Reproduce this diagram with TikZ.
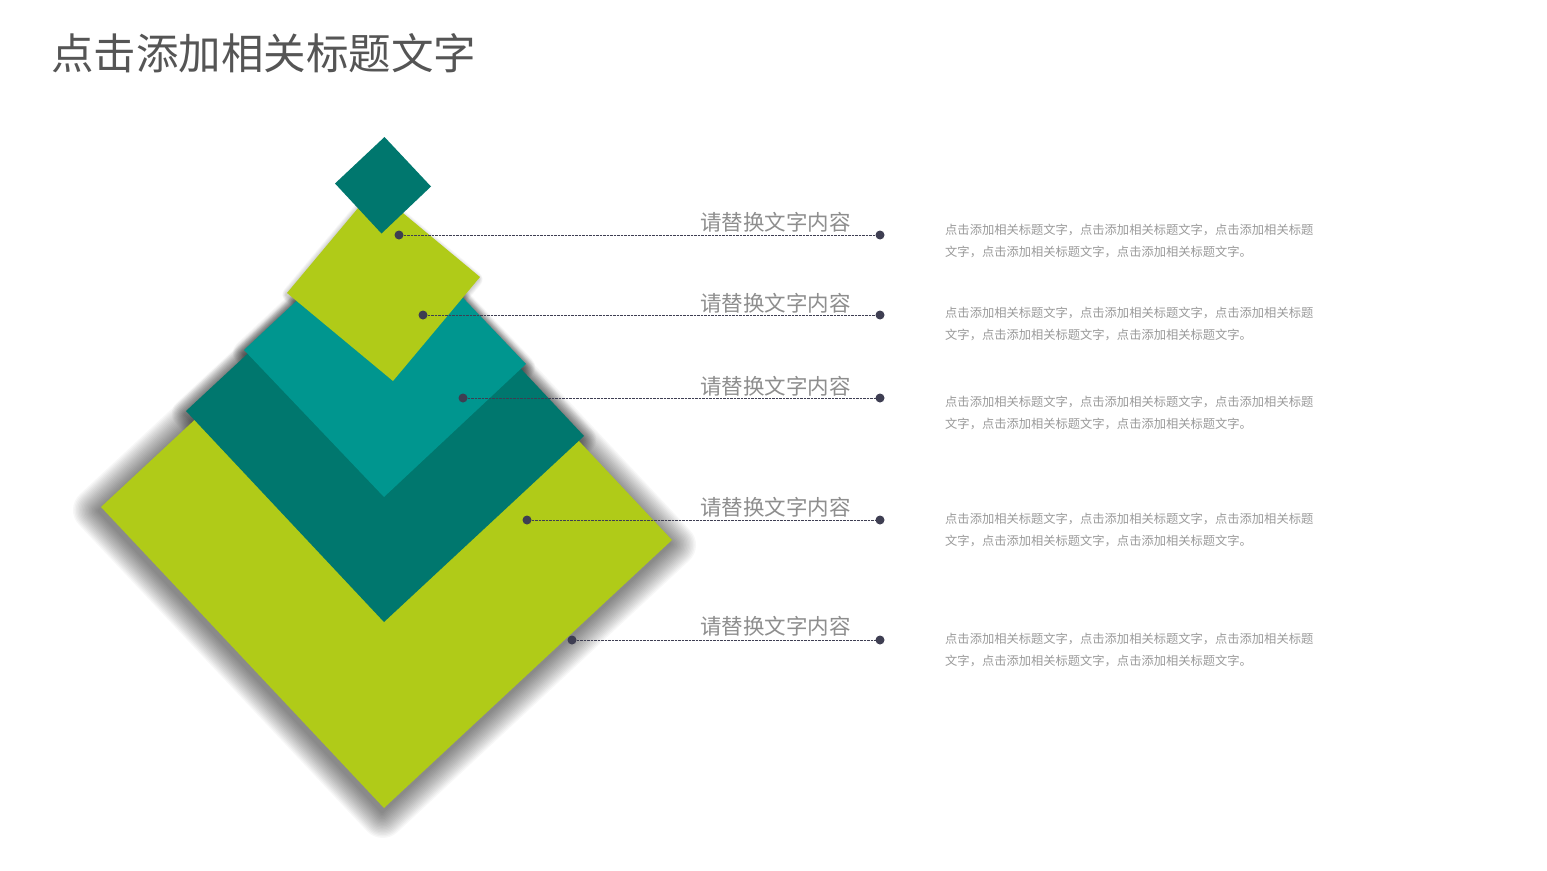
\documentclass[tikz,border=0pt]{standalone}
\usepackage{fontspec}
\newfontfamily\cjk{Noto Sans CJK SC}
\definecolor{lime}{HTML}{B0CB18}
\definecolor{dteal}{HTML}{00776E}
\definecolor{mteal}{HTML}{00968F}
\definecolor{dotc}{HTML}{3E3E52}
\definecolor{labc}{HTML}{8E8E8E}
\definecolor{bodyc}{HTML}{9A9A9A}
\definecolor{titlec}{HTML}{555555}
\tikzset{
  dotnode/.style={circle, fill=dotc, inner sep=0pt, minimum size=9pt},
  conn/.style={dotc, line width=0.9pt, dash pattern=on 0.7pt off 0.7pt},
  lab/.style={inner sep=0pt, anchor=base east, text=labc, font=\cjk\fontsize{21.5}{26}\selectfont},
  body/.style={inner sep=0pt, anchor=base west, text=bodyc, font=\cjk\fontsize{12.27}{22}\selectfont},
  shade layer/.style={fill=black, opacity=#1},
}
\begin{document}
\begin{tikzpicture}[x=1pt,y=-1pt]
\useasboundingbox[fill=white] (0,0) rectangle (1547,870);
% title
\node[inner sep=0pt, anchor=base west, text=titlec, font=\cjk\fontsize{42.5}{50}\selectfont] (title) at (51,69) {点击添加相关标题文字};
% ---- shadows (all beneath the shapes) ----
\foreach \k in {1,...,18}{
  \fill[shade layer=0.03, shift={(-2,4)}, rounded corners=\k*1.2pt, scale around={1+\k*0.0068:(386.5,523.5)}]
    (101,507) -- (384,808) -- (672,540) -- (389,239) -- cycle;
}
\foreach \k in {1,...,12}{
  \fill[shade layer=0.03, shift={(-1,3)}, rounded corners=\k*1.2pt, scale around={1+\k*0.008:(385,423.5)}]
    (186,411) -- (384,622) -- (584,436) -- (386,225) -- cycle;
}
\foreach \k in {1,...,12}{
  \fill[shade layer=0.03, shift={(-1,3)}, rounded corners=\k*1pt, scale around={1+\k*0.009:(385,357)}]
    (244,350) -- (384,497) -- (526,364) -- (386,217) -- cycle;
}
\foreach \k in {1,...,8}{
  \fill[shade layer=0.025, shift={(-1,2)}, rounded corners=\k*1pt, scale around={1+\k*0.009:(383.5,285)}]
    (287,293) -- (393,381) -- (480,277) -- (374,189) -- cycle;
}
% ---- shapes ----
\fill[lime] (101,507) -- (384,808) -- (672,540) -- (389,239) -- cycle;
\fill[dteal] (186,411) -- (384,622) -- (584,436) -- (386,225) -- cycle;
\fill[mteal] (244,350) -- (384,497) -- (526,364) -- (386,217) -- cycle;
\fill[lime] (287,293) -- (393,381) -- (480,277) -- (374,189) -- cycle;
\fill[dteal] (384.5,137) -- (335,183.5) -- (381.5,233.5) -- (431,186.5) -- cycle;
% dots and connectors
\node[dotnode] (d1) at (399,235) {};
\node[dotnode] (d2) at (423,315) {};
\node[dotnode] (d3) at (463,398) {};
\node[dotnode] (d4) at (527,520) {};
\node[dotnode] (d5) at (572,640) {};
\node[dotnode] (e1) at (880,235) {};
\node[dotnode] (e2) at (880,315) {};
\node[dotnode] (e3) at (880,398) {};
\node[dotnode] (e4) at (880,520) {};
\node[dotnode] (e5) at (880,640) {};
\foreach \i in {1,...,5}{ \draw[conn] (d\i) -- (e\i); }
% labels
\node[lab] (l1) at (851,230.5) {请替换文字内容};
\node[lab] (l2) at (851,311) {请替换文字内容};
\node[lab] (l3) at (851,394) {请替换文字内容};
\node[lab] (l4) at (851,515) {请替换文字内容};
\node[lab] (l5) at (851,634) {请替换文字内容};
% body texts
\foreach \n/\y in {1/230, 2/313, 3/402, 4/519, 5/639}{
  \node[body] (b\n a) at (945,\y+4.7) {点击添加相关标题文字，点击添加相关标题文字，点击添加相关标题};
  \node[body] (b\n b) at (945,\y+26.7) {文字，点击添加相关标题文字，点击添加相关标题文字。};
}
\end{tikzpicture}
\end{document}
